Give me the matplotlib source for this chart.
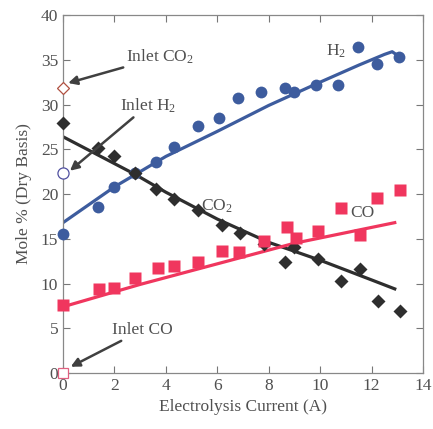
import matplotlib
matplotlib.use("Agg")
import matplotlib.pyplot as plt

# Data
h2_x = [0, 1.35, 2.0, 2.8, 3.6, 4.3, 5.25, 6.06, 6.8, 7.7, 8.65, 9.0, 9.85, 10.7, 11.47, 12.2, 13.05]
h2_y = [15.5, 18.5, 20.8, 22.3, 23.6, 25.2, 27.6, 28.5, 30.7, 31.4, 31.9, 31.4, 32.2, 32.2, 36.4, 34.5, 35.3]

co2_x = [0, 1.35, 2.0, 2.8, 3.6, 4.3, 5.25, 6.2, 6.9, 7.8, 8.65, 9.0, 9.9, 10.8, 11.55, 12.25, 13.1]
co2_y = [27.9, 25.1, 24.2, 22.4, 20.6, 19.4, 18.2, 16.5, 15.7, 14.4, 12.4, 14.1, 12.7, 10.3, 11.6, 8.0, 6.9]

co_x = [0, 1.4, 2.0, 2.8, 3.7, 4.3, 5.25, 6.2, 6.85, 7.8, 8.7, 9.05, 9.9, 10.8, 11.55, 12.2, 13.1]
co_y = [7.6, 9.4, 9.5, 10.6, 11.7, 12.0, 12.4, 13.6, 13.5, 14.8, 16.3, 15.1, 15.9, 18.4, 15.4, 19.6, 20.4]

# Fitted curves
h2_fit_x = [0, 2, 4, 6, 8, 10, 11.5, 12.5, 12.8, 13.0]
h2_fit_y = [16.8, 20.8, 24.2, 27.0, 29.9, 32.5, 34.4, 35.6, 35.9, 35.5]
co2_fit_x = [0, 2.8, 4, 6, 8, 10, 12, 12.9]
co2_fit_y = [26.4, 22.2, 20.2, 17.2, 14.6, 12.6, 10.4, 9.4]
co_fit_x = [0, 3, 6, 9, 12.9]
co_fit_y = [7.4, 9.9, 12.2, 14.5, 16.8]

inlet_x = [0]
inlet_co2 = [31.8]
inlet_h2 = [22.4]
inlet_co = [0]

x_ticks = [0, 2, 4, 6, 8, 10, 12, 14]
y_ticks = [0, 5, 10, 15, 20, 25, 30, 35, 40]

plt.rcParams['font.family'] = ['Liberation Serif', 'DejaVu Serif']
plt.rcParams['mathtext.fontset'] = 'custom'
plt.rcParams['mathtext.rm'] = 'Liberation Serif'
plt.rcParams['mathtext.it'] = 'Liberation Serif:italic'
plt.rcParams['mathtext.bf'] = 'Liberation Serif:bold'
TXT = '#505050'
BLUE = '#3D5C9E'
RED = '#F0365E'
DARK = '#2E2E2E'

fig = plt.figure(figsize=(4.33, 4.29), dpi=100)
ax = fig.add_axes([0.1455, 0.1305, 0.8315, 0.8345])

ax.plot(h2_fit_x, h2_fit_y, color=BLUE, lw=2.3, zorder=2)
ax.plot(co2_fit_x, co2_fit_y, color=DARK, lw=2.3, zorder=2)
ax.plot(co_fit_x, co_fit_y, color=RED, lw=2.3, zorder=2)

ax.plot(h2_x, h2_y, 'o', color=BLUE, ms=8.5, mec='none', zorder=3, clip_on=False)
ax.plot(co2_x, co2_y, 'D', color=DARK, ms=6.8, mec='none', zorder=3, clip_on=False)
ax.plot(co_x, co_y, 's', color=RED, ms=8, mec='none', zorder=3, clip_on=False)

ax.plot(inlet_x, inlet_co2, 'D', mfc='white', mec='#B05040', ms=6.5, mew=0.9, zorder=4, clip_on=False)
ax.plot(inlet_x, inlet_h2, 'o', mfc='white', mec='#5050A0', ms=8, mew=0.9, zorder=4, clip_on=False)
ax.plot(inlet_x, inlet_co, 's', mfc='white', mec='#E06080', ms=7.5, mew=0.9, zorder=4, clip_on=False)

arrow = dict(arrowstyle='-|>', color='#404040', lw=1.8, mutation_scale=13, shrinkA=0, shrinkB=0)
ax.annotate('Inlet CO$_2$', xy=(0.2, 32.4), xytext=(2.45, 35.3), fontsize=12.5, color=TXT,
            va='center', ha='left', arrowprops=arrow)
ax.annotate('Inlet H$_2$', xy=(0.27, 22.6), xytext=(2.2, 29.9), fontsize=12.5, color=TXT,
            va='center', ha='left', arrowprops=arrow)
ax.annotate('Inlet CO', xy=(0.3, 0.7), xytext=(1.9, 4.8), fontsize=12.5, color=TXT,
            va='center', ha='left', arrowprops=arrow)

ax.text(10.6, 35.9, 'H$_2$', fontsize=12.5, color=TXT, ha='center', va='center')
ax.text(6.0, 18.6, 'CO$_2$', fontsize=12.5, color=TXT, ha='center', va='center')
ax.text(11.65, 17.9, 'CO', fontsize=12.5, color=TXT, ha='center', va='center')

ax.set_xlim(0, 14)
ax.set_ylim(0, 40)
ax.set_xticks(x_ticks)
ax.set_yticks(y_ticks)
ax.tick_params(direction='in', top=True, right=True, length=5, width=0.8,
               colors='#777777', labelcolor=TXT, labelsize=12.5)
for s in ax.spines.values():
    s.set_color('#888888')
    s.set_linewidth(0.9)

ax.set_xlabel('Electrolysis Current (A)', fontsize=12.5, color=TXT, labelpad=4)
ax.set_ylabel('Mole % (Dry Basis)', fontsize=12.5, color=TXT, labelpad=6)

fig.savefig('out.png', dpi=100, facecolor='white')
